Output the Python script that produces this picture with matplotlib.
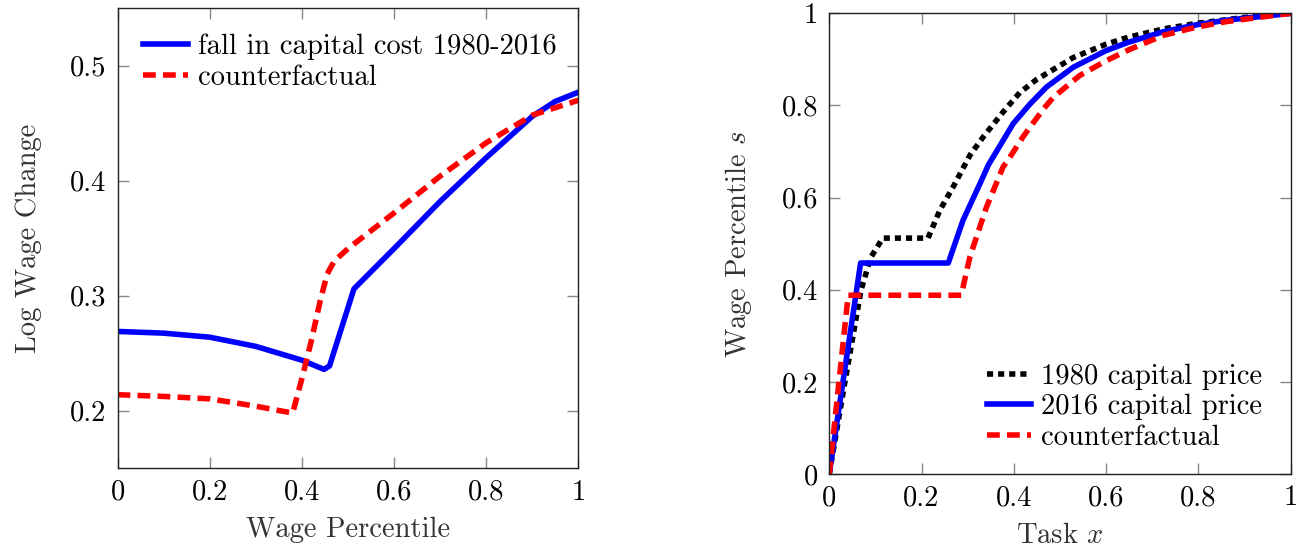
import matplotlib
matplotlib.use('Agg')
import matplotlib.pyplot as plt

plt.rcParams['font.family'] = ['cmr10', 'DejaVu Serif']
plt.rcParams['mathtext.fontset'] = 'cm'
plt.rcParams['axes.formatter.use_mathtext'] = True

# left panel: log wage change by wage percentile
pct_blue = [0, 0.1, 0.2, 0.3, 0.4, 0.448, 0.46, 0.513, 0.6, 0.7, 0.8, 0.9, 0.95, 1.0]
wage_blue = [0.269, 0.2675, 0.264, 0.256, 0.244, 0.236, 0.239, 0.306, 0.341, 0.382, 0.420, 0.456, 0.469, 0.477]
pct_red = [0, 0.1, 0.2, 0.3, 0.38, 0.40, 0.42, 0.44, 0.455, 0.47, 0.5, 0.6, 0.7, 0.8, 0.9, 1.0]
wage_red = [0.214, 0.2125, 0.2104, 0.204, 0.198, 0.228, 0.260, 0.296, 0.319, 0.330, 0.341, 0.372, 0.404, 0.433, 0.457, 0.470]

# right panel: wage percentile by task
task_1980 = [0, 0.034, 0.069, 0.09, 0.116, 0.214, 0.24, 0.269, 0.305, 0.334, 0.377, 0.413,
             0.449, 0.529, 0.6, 0.648, 0.724, 0.796, 0.9, 1.0]
s_1980 = [0, 0.2, 0.4, 0.47, 0.512, 0.512, 0.573, 0.624, 0.692, 0.732, 0.786, 0.828,
          0.856, 0.904, 0.933, 0.948, 0.966, 0.978, 0.991, 1.0]
task_2016 = [0, 0.068, 0.258, 0.29, 0.327, 0.345, 0.399, 0.435, 0.471, 0.529, 0.6, 0.648,
             0.724, 0.796, 0.861, 1.0]
s_2016 = [0, 0.458, 0.458, 0.551, 0.631, 0.671, 0.761, 0.803, 0.840, 0.883, 0.919, 0.937,
          0.960, 0.975, 0.985, 1.0]
task_cf = [0, 0.041, 0.286, 0.305, 0.341, 0.377, 0.388, 0.420, 0.464, 0.486, 0.543, 0.6,
           0.652, 0.724, 0.796, 0.861, 1.0]
s_cf = [0, 0.388, 0.388, 0.472, 0.580, 0.667, 0.682, 0.732, 0.792, 0.818, 0.865, 0.897,
        0.922, 0.952, 0.970, 0.982, 1.0]

x_ticks = [0, 0.2, 0.4, 0.6, 0.8, 1]
x_labels = ['0', '0.2', '0.4', '0.6', '0.8', '1']
left_yticks = [0.2, 0.3, 0.4, 0.5]
left_ylabels = ['0.2', '0.3', '0.4', '0.5']
right_yticks = [0, 0.2, 0.4, 0.6, 0.8, 1]

FS = 20.6
LW = 4
RED_DASH = (2.3, 1.3)
BLACK_DOT = (1.1, 0.9)


def style_axes(ax):
    ax.tick_params(direction='in', length=8, width=1, colors='#888888',
                   top=True, right=True, labelsize=FS, labelcolor='black', pad=8)
    for sp in ax.spines.values():
        sp.set_color('#222222')
        sp.set_linewidth(1)


fig = plt.figure(figsize=(13.15, 5.49), dpi=100)

ax1 = fig.add_axes([0.0894, 0.147, 0.3504, 0.838])
ax1.plot(pct_blue, wage_blue, color='#0000ff', lw=LW, solid_joinstyle='round',
         label='fall in capital cost 1980-2016')
ax1.plot(pct_red, wage_red, color='#ff0000', lw=LW, dashes=RED_DASH, label='counterfactual')
ax1.set_xlim(0, 1)
ax1.set_ylim(0.15, 0.55)
ax1.set_xticks(x_ticks)
ax1.set_xticklabels(x_labels)
ax1.set_yticks(left_yticks)
ax1.set_yticklabels(left_ylabels)
ax1.set_xlabel('Wage Percentile', fontsize=FS, color='#333333', labelpad=8)
ax1.set_ylabel('Log Wage Change', fontsize=FS, color='#333333', labelpad=20)
style_axes(ax1)
ax1.legend(loc='upper left', frameon=False, fontsize=FS, handlelength=1.55,
           handletextpad=0.35, labelspacing=0.15, borderaxespad=0.5)

ax2 = fig.add_axes([0.6306, 0.1366, 0.3509, 0.8392])
ax2.plot(task_1980, s_1980, color='black', lw=LW, dashes=BLACK_DOT, label='1980 capital price')
ax2.plot(task_2016, s_2016, color='#0000ff', lw=LW, solid_joinstyle='round',
         label='2016 capital price')
ax2.plot(task_cf, s_cf, color='#ff0000', lw=LW, dashes=RED_DASH, label='counterfactual')
ax2.set_xlim(0, 1)
ax2.set_ylim(0, 1)
ax2.set_xticks(x_ticks)
ax2.set_xticklabels(x_labels)
ax2.set_yticks(right_yticks)
ax2.set_yticklabels(x_labels)
ax2.set_xlabel('Task $x$', fontsize=FS, color='#333333', labelpad=8)
ax2.set_ylabel('Wage Percentile $s$', fontsize=FS, color='#333333', labelpad=20)
style_axes(ax2)
ax2.legend(loc='lower right', bbox_to_anchor=(0.988, 0.0), frameon=False, fontsize=FS,
           handlelength=1.55, handletextpad=0.35, labelspacing=0.15, borderaxespad=0.4)

fig.savefig('out.png', dpi=100)
